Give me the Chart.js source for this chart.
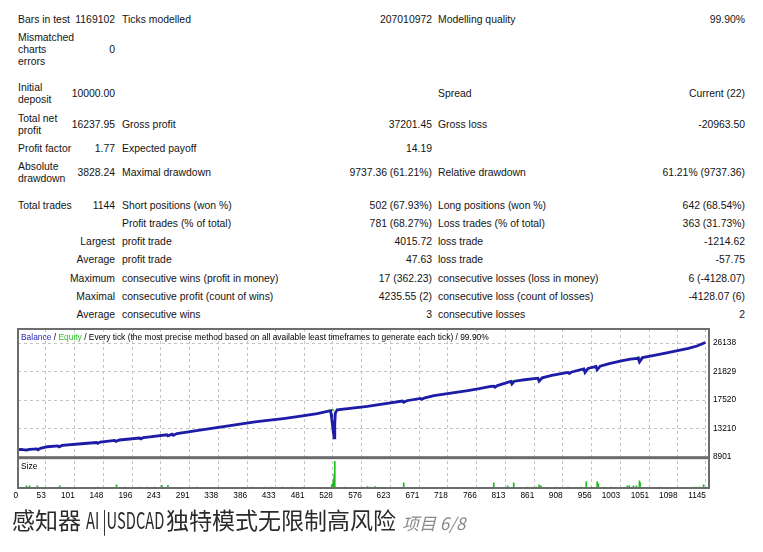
<!DOCTYPE html>
<html>
<head>
<meta charset="utf-8">
<script src="https://cdn.jsdelivr.net/npm/chart.js@4"></script>
<style>
  body { margin: 0; background: #fff; }
  #page { position: relative; width: 763px; height: 552px; overflow: hidden; background: #fff;
          font-family: "Liberation Sans", Arial, sans-serif; }
  .t { position: absolute; font-size: 10.4px; line-height: 12px; color: #141414; white-space: nowrap; }
  .r { text-align: right; }
  #wrap { position: absolute; left: 0; top: 320px; width: 763px; height: 190px; }
  .ttl { position: absolute; font-family: "Noto Sans CJK SC", sans-serif; white-space: nowrap; line-height: 23px; }
</style>
</head>
<body>
<div id="page">
  <div id="report"></div>
  <div id="wrap"><canvas id="balanceChart" width="763" height="190"></canvas></div>
  <div class="ttl" style="left:12px; top:508px; font-size:23px; color:#2a2a2a;">感知器</div>
  <div class="ttl" style="left:86px; top:508px; font-size:23px; color:#2a2a2a; transform:scaleX(0.64); transform-origin:left top;">AI |USDCAD</div>
  <div class="ttl" style="left:166px; top:508px; font-size:23px; color:#2a2a2a;">独特模式无限制高风险</div>
  <div class="ttl" style="left:402px; top:514px; font-size:17px; line-height:17px; color:#8a8a8a; font-style:italic;">项目 6/8</div>
</div>
<script>
// Ejes
const xTickValues = [0, 53, 101, 148, 196, 243, 291, 338, 386, 433, 481, 528, 576, 623,
  671, 718, 766, 813, 861, 908, 956, 1003, 1051, 1098, 1145];
const yTickValues = [8901, 13210, 17520, 21829, 26138];

// Balance (número de operación / saldo)
const balanceTrades = [0, 12, 21, 26, 38, 40, 44, 56, 73, 75, 80, 112, 137, 139, 143, 167, 169, 175,
  208, 210, 214, 222, 253, 255, 262, 264, 270, 278, 305, 333, 366, 399, 420, 446, 475, 502, 524, 525,
  526, 527, 528, 529, 530, 531, 532, 535, 560, 585, 612, 643, 645, 650, 673, 675, 680, 695, 723, 751,
  770, 789, 794, 796, 800, 822, 824, 828, 845, 867, 869, 874, 890, 910, 917, 919, 923, 943, 945, 950,
  963, 965, 970, 985, 1005, 1020, 1033, 1035, 1040, 1055, 1076, 1096, 1116, 1130, 1144];
const balanceValues = [10000, 10080, 9960, 10090, 10150, 10020, 10230, 10480, 10600, 10470, 10680,
  10930, 11120, 10980, 11180, 11440, 11300, 11500, 11800, 11660, 11850, 11930, 12290, 12120, 12380,
  12200, 12470, 12580, 12950, 13330, 13800, 14230, 14450, 14740, 15120, 15490, 15940, 15400, 14700,
  13900, 13100, 12400, 11812, 14000, 15600, 16050, 16320, 16590, 16950, 17380, 17200, 17430, 17780,
  17650, 17870, 18200, 18580, 18950, 19250, 19590, 19640, 19480, 19720, 20340, 19950, 20380, 20600,
  20840, 20400, 20900, 21250, 21590, 21700, 21550, 21780, 22250, 21700, 22300, 22600, 22100, 22650,
  23050, 23450, 23700, 23840, 23300, 23950, 24200, 24590, 24960, 25340, 25700, 26238];

// Equity: sólo los tramos donde se separa del balance (null = hueco)
const equityTrades = [19, 22, 25, 26, 522, 526, 530, 531, 820, 823, 826, 827, 1030, 1033, 1036];
const equityValues = [10080, 10070, 10110, null, 15900, 16000, 16040, null, 20300, 20480, 20370, null,
  23820, 24050, 23960];

// Size (lotes)
const sizeTrades = [21, 26, 39, 76, 139, 170, 184, 208, 220, 233, 245, 255, 303, 394, 416, 427, 444,
  461, 479, 526, 527, 528, 529, 530, 531, 548, 585, 590, 598, 645, 794, 817, 827, 850, 859, 864, 869,
  872, 897, 917, 938, 947, 955, 965, 967, 977, 988, 1015, 1018, 1025, 1030, 1035, 1036, 1068, 1124,
  1129, 1134, 1141];
const sizeValues = [0.2, 0.2, 0.2, 0.2, 0.1, 0.3, 0.1, 0.1, 0.1, 0.1, 0.25, 0.25, 0.1, 0.1, 0.1, 0.1,
  0.1, 0.1, 0.1, 0.3, 0.3, 0.5, 0.8, 1.3, 2.6, 0.1, 0.15, 0.1, 0.15, 0.5, 0.5, 0.2, 0.5, 0.1, 0.1, 0.1,
  0.3, 0.2, 0.1, 0.1, 0.1, 0.6, 0.1, 0.6, 0.4, 0.1, 0.1, 0.2, 0.2, 0.2, 0.2, 0.7, 0.5, 0.1, 0.1, 0.1,
  0.1, 0.3];

// Tabla del informe
const reportRows = [
  { y: 20, a: 'Bars in test', b: '1169102', c: 'Ticks modelled', d: '207010972', e: 'Modelling quality', f: '99.90%' },
  { y: 50, a: 'Mismatched\ncharts\nerrors', b: '0' },
  { y: 94, a: 'Initial\ndeposit', b: '10000.00', e: 'Spread', f: 'Current (22)' },
  { y: 125, a: 'Total net\nprofit', b: '16237.95', c: 'Gross profit', d: '37201.45', e: 'Gross loss', f: '-20963.50' },
  { y: 149, a: 'Profit factor', b: '1.77', c: 'Expected payoff', d: '14.19' },
  { y: 173, a: 'Absolute\ndrawdown', b: '3828.24', c: 'Maximal drawdown', d: '9737.36 (61.21%)', e: 'Relative drawdown', f: '61.21% (9737.36)' },
  { y: 206, a: 'Total trades', b: '1144', c: 'Short positions (won %)', d: '502 (67.93%)', e: 'Long positions (won %)', f: '642 (68.54%)' },
  { y: 224, c: 'Profit trades (% of total)', d: '781 (68.27%)', e: 'Loss trades (% of total)', f: '363 (31.73%)' },
  { y: 242, b: 'Largest', c: 'profit trade', d: '4015.72', e: 'loss trade', f: '-1214.62' },
  { y: 260, b: 'Average', c: 'profit trade', d: '47.63', e: 'loss trade', f: '-57.75' },
  { y: 279, b: 'Maximum', c: 'consecutive wins (profit in money)', d: '17 (362.23)', e: 'consecutive losses (loss in money)', f: '6 (-4128.07)' },
  { y: 297, b: 'Maximal', c: 'consecutive profit (count of wins)', d: '4235.55 (2)', e: 'consecutive loss (count of losses)', f: '-4128.07 (6)' },
  { y: 315, b: 'Average', c: 'consecutive wins', d: '3', e: 'consecutive losses', f: '2' }
];

const colLeft = { a: 18, c: 122, e: 438 };
const colRight = { b: 115, d: 432, f: 745 };

const report = document.getElementById('report');
reportRows.forEach(row => {
  Object.keys(row).forEach(k => {
    if (k === 'y') return;
    const lines = row[k].split('\n');
    const div = document.createElement('div');
    div.className = 't';
    div.innerHTML = lines.join('<br>');
    div.style.top = (row.y - lines.length * 6) + 'px';
    if (colLeft[k] !== undefined) {
      div.style.left = colLeft[k] + 'px';
    } else {
      div.className = 't r';
      div.style.right = (763 - colRight[k]) + 'px';
    }
    report.appendChild(div);
  });
});

const tickFont = { family: '"Liberation Sans", sans-serif', size: 8.3 };

// Marcos, leyenda superior y rótulo "Size"
const marcos = {
  id: 'marcos',
  afterDraw(chart) {
    const { ctx, chartArea } = chart;
    const y = chart.scales.y;
    const s = chart.scales.ySize;
    const w = chartArea.right - chartArea.left;
    ctx.save();
    ctx.strokeStyle = '#6c6c6c';
    ctx.lineWidth = 2;
    ctx.strokeRect(chartArea.left, y.top, w, y.bottom - y.top);
    ctx.strokeRect(chartArea.left, s.top + 1, w, s.bottom - s.top - 1);

    // texto un poco comprimido a lo ancho, como en el original
    ctx.font = '9px "Liberation Sans", sans-serif';
    ctx.textBaseline = 'middle';
    ctx.translate(chartArea.left + 3, 0);
    ctx.scale(0.935, 1);
    const partes = [
      ['Balance', '#2828b4'],
      [' / ', '#000'],
      ['Equity', '#2cbf2c'],
      [' / Every tick (the most precise method based on all available least timeframes to generate each tick) / 99.90%', '#000']
    ];
    let x = 0;
    partes.forEach(([txt, col]) => {
      ctx.fillStyle = col;
      ctx.fillText(txt, x, y.top + 9);
      x += ctx.measureText(txt).width;
    });
    ctx.fillStyle = '#000';
    ctx.fillText('Size', 0, s.top + 9);
    ctx.restore();
  }
};

const ctx = document.getElementById('balanceChart').getContext('2d');
window.balanceChart = new Chart(ctx, {
  type: 'line',
  data: {
    datasets: [{
      label: 'Balance',
      data: balanceTrades.map((t, i) => ({ x: t, y: balanceValues[i] })),
      borderColor: '#1c1ca6',
      borderWidth: 2.8,
      pointRadius: 0,
      tension: 0,
      yAxisID: 'y',
      order: 1
    }, {
      label: 'Equity',
      data: equityTrades.map((t, i) => ({ x: t, y: equityValues[i] })),
      borderColor: '#2cc02c',
      borderWidth: 1.5,
      pointRadius: 0,
      spanGaps: false,
      yAxisID: 'y',
      order: 2
    }, {
      type: 'bar',
      label: 'Size',
      data: sizeTrades.map((t, i) => ({ x: t, y: sizeValues[i] })),
      backgroundColor: '#1cbc1c',
      barThickness: 1,
      yAxisID: 'ySize',
      order: 3
    }]
  },
  options: {
    responsive: false,
    animation: false,
    layout: { padding: { left: 18, top: 8, right: 0, bottom: 0 } },
    plugins: { legend: { display: false }, tooltip: { enabled: false } },
    scales: {
      x: {
        type: 'linear',
        offset: false,
        min: 7,
        max: 1150,
        afterBuildTicks: scale => {
          scale.ticks = xTickValues.map(v => ({ value: Math.max(v, scale.min) }));
        },
        afterFit: scale => { scale.height = 22; },
        ticks: {
          callback: (v, i) => String(xTickValues[i]),
          align: 'end',
          padding: 3,
          autoSkip: false,
          maxRotation: 0,
          color: '#000',
          font: tickFont
        },
        grid: { color: '#c4c4c4', drawTicks: false, offset: false },
        border: { display: false, dash: [3, 3] }
      },
      y: {
        position: 'right',
        stack: 'panel',
        stackWeight: 129,
        min: 8901,
        max: 28270,
        afterBuildTicks: scale => {
          scale.ticks = yTickValues.map(v => ({ value: v }));
        },
        afterFit: scale => { scale.width = 54; },
        ticks: {
          callback: v => String(v),
          padding: 4,
          autoSkip: false,
          color: '#000',
          font: tickFont
        },
        grid: { color: '#c4c4c4', drawTicks: false },
        border: { display: false, dash: [3, 3] }
      },
      ySize: {
        position: 'right',
        stack: 'panel',
        stackWeight: 31,
        min: 0,
        max: 3,
        afterFit: scale => { scale.width = 54; },
        ticks: { display: false },
        grid: { display: false },
        border: { display: false }
      }
    }
  },
  plugins: [marcos]
});
</script>
</body>
</html>
